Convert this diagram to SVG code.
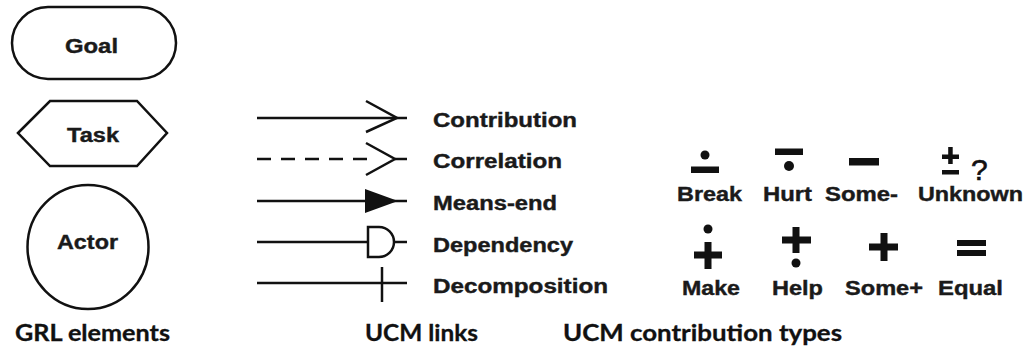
<svg xmlns="http://www.w3.org/2000/svg" width="1030" height="347" viewBox="0 0 1030 347">
<style>
.shape{fill:#fff;stroke:#111;stroke-width:2.5}
.lbl{font-family:"Liberation Sans",Arial,sans-serif;font-weight:bold;font-size:20px;fill:#1a1a1a;stroke:#1a1a1a;stroke-width:0.4}
.ttl{font-family:Lato,"Noto Sans",sans-serif;font-weight:bold;font-size:22px;fill:#111;stroke:#111;stroke-width:0.3}
.q{font-family:"Liberation Sans",Arial,sans-serif;font-size:30px;fill:#111;stroke:#111;stroke-width:0.6}
.ln{stroke:#111;stroke-width:2.5;fill:none}
.sym{fill:#111}
</style>
<rect width="1030" height="347" fill="#fff"/>
<g id="goal">
<rect class="shape" x="12" y="7" width="164" height="72" rx="36" ry="36"/>
<text class="lbl" x="65" y="53" textLength="53" lengthAdjust="spacingAndGlyphs">Goal</text>
</g>
<g id="task">
<polygon class="shape" points="18,133 50,101 137,101 167,133 137,166 50,166"/>
<text class="lbl" x="67" y="142" textLength="52" lengthAdjust="spacingAndGlyphs">Task</text>
</g>
<g id="actor">
<ellipse class="shape" cx="88" cy="247" rx="60.5" ry="62"/>
<text class="lbl" x="57" y="249" textLength="61" lengthAdjust="spacingAndGlyphs">Actor</text>
</g>
<g id="grl-title">
<text class="ttl" x="15" y="341" textLength="155" lengthAdjust="spacingAndGlyphs">GRL elements</text>
</g>
<g id="connectors">
<g id="contribution">
<line class="ln" x1="257" y1="118" x2="407" y2="118"/>
<polyline class="ln" points="366,101 397,118 366,132"/>
</g>
<g id="correlation">
<line class="ln" x1="257" y1="159" x2="372" y2="159" stroke-dasharray="14,10"/>
<line class="ln" x1="395" y1="159" x2="407" y2="159"/>
<polyline class="ln" points="366,143 395,159 366,175"/>
</g>
<g id="means-end">
<line class="ln" x1="257" y1="201" x2="407" y2="201"/>
<polygon class="sym" points="365,189 398,201 365,213"/>
</g>
<g id="dependency">
<line class="ln" x1="257" y1="242" x2="368" y2="242"/>
<line class="ln" x1="394" y1="242" x2="407" y2="242"/>
<path class="shape" d="M368,227 L379,227 A15,15 0 0 1 379,257 L368,257 Z"/>
</g>
<g id="decomposition">
<line class="ln" x1="257" y1="283" x2="407" y2="283"/>
<line class="ln" x1="382" y1="267" x2="382" y2="302"/>
</g>
</g>
<g id="link-labels">
<text class="lbl" x="433" y="127" textLength="144" lengthAdjust="spacingAndGlyphs">Contribution</text>
<text class="lbl" x="433" y="168" textLength="129" lengthAdjust="spacingAndGlyphs">Correlation</text>
<text class="lbl" x="433" y="210" textLength="124" lengthAdjust="spacingAndGlyphs">Means-end</text>
<text class="lbl" x="433" y="252" textLength="140" lengthAdjust="spacingAndGlyphs">Dependency</text>
<text class="lbl" x="433" y="293" textLength="175" lengthAdjust="spacingAndGlyphs">Decomposition</text>
</g>
<g id="ucm-title">
<text class="ttl" x="365" y="341" textLength="113" lengthAdjust="spacingAndGlyphs">UCM links</text>
</g>
<g id="break">
<circle class="sym" cx="705" cy="155" r="4.5"/>
<rect class="sym" x="691" y="166.5" width="28" height="6.5"/>
<text class="lbl" x="677" y="201" textLength="65" lengthAdjust="spacingAndGlyphs">Break</text>
</g>
<g id="hurt">
<rect class="sym" x="775" y="148.5" width="28" height="6.5"/>
<circle class="sym" cx="789" cy="166" r="5"/>
<text class="lbl" x="763" y="201" textLength="49" lengthAdjust="spacingAndGlyphs">Hurt</text>
</g>
<g id="some-minus">
<rect class="sym" x="849" y="158" width="30" height="7.5"/>
<text class="lbl" x="825" y="201" textLength="73" lengthAdjust="spacingAndGlyphs">Some-</text>
</g>
<g id="unknown">
<rect class="sym" x="942" y="154.5" width="17" height="4.5"/>
<rect class="sym" x="948.2" y="147" width="4.5" height="17"/>
<rect class="sym" x="942" y="170" width="17" height="4.5"/>
<text class="q" x="971" y="180">?</text>
<text class="lbl" x="918" y="201" textLength="105" lengthAdjust="spacingAndGlyphs">Unknown</text>
</g>
<g id="make">
<circle class="sym" cx="708" cy="229" r="4.5"/>
<rect class="sym" x="694" y="251.5" width="28" height="7"/>
<rect class="sym" x="704.5" y="242" width="7" height="27"/>
<text class="lbl" x="682" y="295" textLength="58" lengthAdjust="spacingAndGlyphs">Make</text>
</g>
<g id="help">
<rect class="sym" x="782" y="236.5" width="29" height="7"/>
<rect class="sym" x="792.5" y="227" width="7" height="26"/>
<circle class="sym" cx="796" cy="263" r="4.5"/>
<text class="lbl" x="772" y="295" textLength="51" lengthAdjust="spacingAndGlyphs">Help</text>
</g>
<g id="some-plus">
<rect class="sym" x="869" y="243.5" width="29" height="7"/>
<rect class="sym" x="880.5" y="233" width="7" height="28"/>
<text class="lbl" x="845" y="295" textLength="78" lengthAdjust="spacingAndGlyphs">Some+</text>
</g>
<g id="equal">
<rect class="sym" x="957" y="240" width="29" height="6"/>
<rect class="sym" x="957" y="250" width="29" height="6"/>
<text class="lbl" x="938" y="295" textLength="65" lengthAdjust="spacingAndGlyphs">Equal</text>
</g>
<g id="contrib-title">
<text class="ttl" x="563" y="341" textLength="279" lengthAdjust="spacingAndGlyphs">UCM contribution types</text>
</g>
</svg>
